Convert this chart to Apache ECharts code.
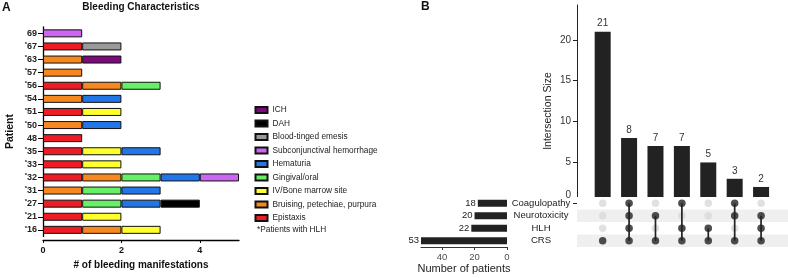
<!DOCTYPE html>
<html><head><meta charset="utf-8">
<script src="https://cdn.jsdelivr.net/npm/echarts@6/dist/echarts.min.js"></script>
<style>html,body{margin:0;padding:0;background:#fff}#c{width:788px;height:278px}</style>
</head><body><div id="c"></div>
<script>
// ---------- Panel A data ----------
const patients = ['69','*67','*63','*57','*56','*54','*51','*50','48','*35','*33','*32','*31','*27','*21','*16'];
const bleedTypes = ['Epistaxis','Bruising, petechiae, purpura','IV/Bone marrow site','Gingival/oral','Hematuria','Subconjunctival hemorrhage','Blood-tinged emesis','DAH','ICH'];
const epistaxis = [0,1,0,0,1,0,1,0,1,1,1,1,0,1,1,1];
const bruising  = [0,0,1,1,1,1,0,1,0,0,0,1,1,0,0,1];
const ivSite    = [0,0,0,0,0,0,1,0,0,1,1,0,0,0,1,1];
const gingival  = [0,0,0,0,1,0,0,0,0,0,0,1,1,1,0,0];
const hematuria = [0,0,0,0,0,1,0,1,0,1,0,1,1,1,0,0];
const subconj   = [1,0,0,0,0,0,0,0,0,0,0,1,0,0,0,0];
const emesis    = [0,1,0,0,0,0,0,0,0,0,0,0,0,0,0,0];
const dah       = [0,0,0,0,0,0,0,0,0,0,0,0,0,1,0,0];
const ich       = [0,0,1,0,0,0,0,0,0,0,0,0,0,0,0,0];
const xTicksA = [0,2,4];
const legendOrder = ['ICH','DAH','Blood-tinged emesis','Subconjunctival hemorrhage','Hematuria','Gingival/oral','IV/Bone marrow site','Bruising, petechiae, purpura','Epistaxis'];

// ---------- Panel B data ----------
const sets = ['Coagulopathy','Neurotoxicity','HLH','CRS'];
const setSizes = [18,20,22,53];
const intersectionSizes = [21,8,7,7,5,3,2];
const combos = [
  ['CRS'],
  ['Coagulopathy','Neurotoxicity','HLH','CRS'],
  ['Neurotoxicity','CRS'],
  ['Coagulopathy','HLH','CRS'],
  ['HLH','CRS'],
  ['Coagulopathy','Neurotoxicity','CRS'],
  ['Neurotoxicity','HLH','CRS']
];
const yTicksB = [0,5,10,15,20];
const xTicksSet = [0,20,40];

const FONT = "'Liberation Sans', Arial, Helvetica, sans-serif";
const colors = ['#ee1c24','#f7881f','#ffff2e','#66f066','#2276e8','#cc66f2','#9a9a9a','#000000','#7d0a7d'];
const seriesVals = [epistaxis,bruising,ivSite,gingival,hematuria,subconj,emesis,dah,ich];

const chart = echarts.init(document.getElementById('c'), null, {renderer:'canvas'});

const barSeries = bleedTypes.map((name,k)=>({
  name, type:'bar', stack:'b', xAxisIndex:0, yAxisIndex:0,
  barWidth:8,
  data: seriesVals[k].map(v => v ? v : '-'),
  itemStyle:{color:colors[k], borderColor:'#111', borderWidth:1},
  emphasis:{disabled:true}
}));

const lightDots=[], darkDots=[], links=[];
combos.forEach((c,i)=>{
  sets.forEach(s=>{ (c.includes(s)?darkDots:lightDots).push([i,s]); });
  const idx = c.map(s=>sets.indexOf(s));
  links.push([i, Math.min(...idx), Math.max(...idx)]);
});

const option = {
  animation:false,
  textStyle:{fontFamily:FONT},
  legend:{
    data:legendOrder, orient:'vertical', left:249.5, top:100,
    itemWidth:12, itemHeight:6, itemGap:3.5, icon:'rect',
    textStyle:{fontSize:8.3, color:'#222', fontFamily:FONT, lineHeight:10},
    selectedMode:false
  },
  grid:[
    {left:43, top:26.8, width:196, height:209.6},
    {left:577, top:5, width:211, height:198.3},
    {left:577, top:197, width:211, height:50},
    {left:421, top:197, width:86, height:50}
  ],
  xAxis:[
    {gridIndex:0, type:'value', min:0, max:5, offset:3.6,
     axisLine:{show:true, onZero:false, lineStyle:{color:'#000', width:1.3}},
     axisTick:{show:true, length:3, customValues:xTicksA, lineStyle:{color:'#000'}},
     axisLabel:{customValues:xTicksA, fontSize:9, fontWeight:'bold', color:'#111', margin:6},
     splitLine:{show:false},
     name:'# of bleeding manifestations', nameLocation:'middle', nameGap:19,
     nameTextStyle:{fontSize:10, fontWeight:'bold', color:'#111'}},
    {gridIndex:1, type:'value', min:-0.973, max:7.02, show:false},
    {gridIndex:2, type:'value', min:-0.973, max:7.02, show:false},
    {gridIndex:3, type:'value', min:0, max:53, inverse:true,
     axisLine:{show:true, onZero:false, lineStyle:{color:'#333', width:1}},
     axisTick:{show:true, length:3, customValues:xTicksSet, lineStyle:{color:'#333'}},
     axisLabel:{customValues:xTicksSet, fontSize:9.5, color:'#4d4d4d', margin:5},
     splitLine:{show:false},
     name:'Number of patients', nameLocation:'middle', nameGap:16,
     nameTextStyle:{fontSize:11, color:'#222'}}
  ],
  yAxis:[
    {gridIndex:0, type:'category', data:patients, inverse:true,
     axisLine:{show:true, onZero:false, lineStyle:{color:'#000', width:1.3}},
     axisTick:{show:true, alignWithLabel:true, interval:0, length:5, lineStyle:{color:'#000'}},
     axisLabel:{interval:0, margin:6, align:'right',
       formatter: v => v[0]==='*' ? '{s|*}{b|'+v.slice(1)+'}' : '{b|'+v+'}',
       rich:{
         b:{fontSize:9, fontWeight:'bold', color:'#222', fontFamily:FONT, lineHeight:10},
         s:{fontSize:6, fontWeight:'bold', color:'#222', fontFamily:FONT, verticalAlign:'top', lineHeight:6}
       }},
     name:'Patient', nameLocation:'middle', nameGap:27,
     nameTextStyle:{fontSize:10.5, fontWeight:'bold', color:'#111'}},
    {gridIndex:1, type:'value', min:0, max:24.27,
     axisLine:{show:true, onZero:false, lineStyle:{color:'#222', width:1}},
     axisTick:{show:true, length:4, customValues:yTicksB, lineStyle:{color:'#222'}},
     axisLabel:{customValues:yTicksB, fontSize:10, color:'#333', margin:6,
       formatter: v => v===0 ? '{z|0}' : String(v),
       rich:{z:{fontSize:10, color:'#333', fontFamily:FONT, padding:[0,0,17,0]}}},
     splitLine:{show:false}},
    {gridIndex:2, type:'category', data:sets, inverse:true, z:10,
     axisLine:{show:false}, axisTick:{show:false}, axisLabel:{show:false, interval:0},
     splitArea:{show:true, interval:0, areaStyle:{color:['#ffffff','#efefef']}}},
    {gridIndex:3, type:'category', data:sets, inverse:true, position:'right',
     axisLine:{show:false}, axisTick:{show:false},
     axisLabel:{interval:0, margin:34, align:'center', fontSize:9.5, color:'#222'}}
  ],
  graphic:[
    {type:'text', left:2, top:2, style:{text:'A', font:'bold 12px '+FONT, fill:'#111'}},
    {type:'text', left:421, top:1, style:{text:'B', font:'bold 12px '+FONT, fill:'#111'}},
    {type:'text', x:141, y:7, style:{text:'Bleeding Characteristics', font:'bold 10px '+FONT, fill:'#111', align:'center', verticalAlign:'middle'}},
    {type:'text', x:257, y:230, style:{text:'*Patients with HLH', font:'8.3px '+FONT, fill:'#222', align:'left', verticalAlign:'middle'}},
    {type:'text', x:548.5, y:111, rotation:Math.PI/2, style:{text:'Intersection Size', font:'10.5px '+FONT, fill:'#222', align:'center', verticalAlign:'middle'}}
  ],
  series:[
    ...barSeries,
    {type:'bar', xAxisIndex:1, yAxisIndex:1, barWidth:16,
     data:intersectionSizes.map((v,i)=>[i,v]),
     itemStyle:{color:'#222'},
     label:{show:true, position:'top', distance:3, fontSize:10, color:'#333', formatter:p=>p.value[1]}},
    {type:'scatter', xAxisIndex:2, yAxisIndex:2, z:11, symbolSize:7.5, data:lightDots, itemStyle:{color:'#d9d9d9'}},
    {type:'custom', xAxisIndex:2, yAxisIndex:2, z:12, data:links, encode:{x:0, y:[1,2]},
     renderItem:(params,api)=>{
       const x=api.value(0), a=api.value(1), b=api.value(2);
       const p1=api.coord([x,a]), p2=api.coord([x,b]);
       return {type:'line', shape:{x1:p1[0],y1:p1[1],x2:p2[0],y2:p2[1]}, style:{stroke:'#222', lineWidth:1.7}};
     }},
    {type:'scatter', xAxisIndex:2, yAxisIndex:2, z:13, symbolSize:7.5, data:darkDots, itemStyle:{color:'#222'}},
    {type:'bar', xAxisIndex:3, yAxisIndex:3, barWidth:7, data:setSizes,
     itemStyle:{color:'#222'},
     label:{show:true, position:'left', distance:2, fontSize:9.5, color:'#222'}}
  ]
};
chart.setOption(option);
</script></body></html>
